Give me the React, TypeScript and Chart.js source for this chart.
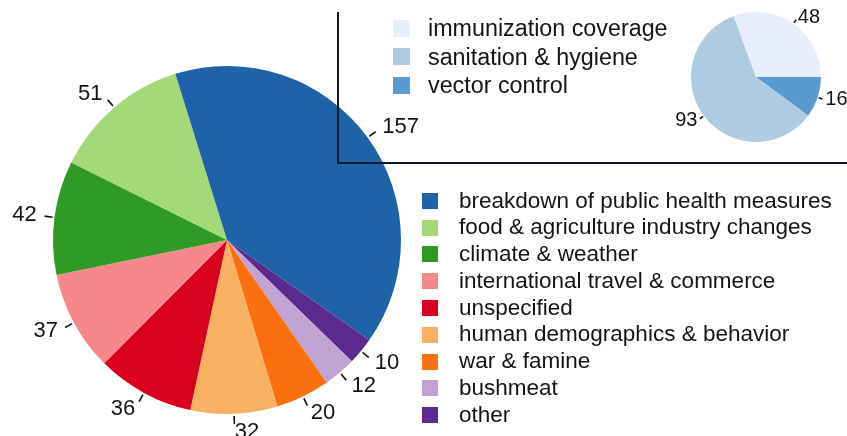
import React, { useEffect, useRef } from "react";
import { Chart, registerables } from "chart.js";
Chart.register(...registerables);

// ---- data (legend order) ----
const mainLabels = [
  "breakdown of public health measures",
  "food & agriculture industry changes",
  "climate & weather",
  "international travel & commerce",
  "unspecified",
  "human demographics & behavior",
  "war & famine",
  "bushmeat",
  "other",
];
const mainValues = [157, 51, 42, 37, 36, 32, 20, 12, 10];
const mainColors = [
  "#1f62a8",
  "#a4d97a",
  "#2f9a26",
  "#f6878b",
  "#d8001c",
  "#f8b163",
  "#fa7011",
  "#c1a4d4",
  "#5c2a8f",
];

const insetLabels = ["immunization coverage", "sanitation & hygiene", "vector control"];
const insetValues = [48, 93, 16];
const insetColors = ["#e8eefb", "#aecbe2", "#5a9bcf"];

const FONT = '"Liberation Sans", Arial, Helvetica, sans-serif';
const W = 847;
const H = 436;

function makeLabelPlugin(id: string, tickIn: number, tickOut: number, textOff: number, fontPx: number) {
  return {
    id,
    afterDatasetsDraw(chart: any) {
      const ctx = chart.ctx;
      const meta = chart.getDatasetMeta(0);
      const data = chart.data.datasets[0].data;
      ctx.save();
      ctx.strokeStyle = "#111";
      ctx.lineWidth = 1.6;
      ctx.fillStyle = "#141414";
      ctx.font = `${fontPx}px ${FONT}`;
      ctx.textBaseline = "middle";
      meta.data.forEach((arc: any, i: number) => {
        const p = arc.getProps(["x", "y", "startAngle", "endAngle", "outerRadius"], true);
        const a = (p.startAngle + p.endAngle) / 2;
        const c = Math.cos(a);
        const s = Math.sin(a);
        const r = p.outerRadius;
        ctx.beginPath();
        ctx.moveTo(p.x + c * (r + tickIn), p.y + s * (r + tickIn));
        ctx.lineTo(p.x + c * (r + tickOut), p.y + s * (r + tickOut));
        ctx.stroke();
        const tx = p.x + c * (r + textOff);
        const ty = p.y + s * (r + textOff);
        ctx.textAlign = c < -0.15 ? "right" : "left";
        ctx.fillText(String(data[i]), tx, ty);
      });
      ctx.restore();
    },
  };
}

const boxPlugin = {
  id: "boxLines",
  afterDraw(chart: any) {
    const ctx = chart.ctx;
    ctx.save();
    ctx.strokeStyle = "#111827";
    ctx.lineWidth = 2;
    ctx.beginPath();
    ctx.moveTo(338, 12);
    ctx.lineTo(338, 163);
    ctx.lineTo(W, 163);
    ctx.stroke();
    ctx.restore();
  },
};

function Legend(props: {
  labels: string[];
  colors: string[];
  left: number;
  top: number;
  rowH: number;
  box: number;
  gap: number;
  fontPx: number;
}) {
  const { labels, colors, left, top, rowH, box, gap, fontPx } = props;
  return (
    <div style={{ position: "absolute", left, top, fontFamily: FONT, fontSize: fontPx, color: "#141414" }}>
      {labels.map((l, i) => (
        <div
          key={l}
          style={{ height: rowH, lineHeight: rowH + "px", display: "flex", alignItems: "center", whiteSpace: "nowrap" }}
        >
          <span style={{ display: "inline-block", width: box, height: box, background: colors[i], marginRight: gap, flex: "none" }} />
          <span>{l}</span>
        </div>
      ))}
    </div>
  );
}

export default function App() {
  const mainRef = useRef<HTMLCanvasElement>(null);
  const insetRef = useRef<HTMLCanvasElement>(null);

  useEffect(() => {
    const rev = <T,>(arr: T[]) => arr.slice().reverse();
    const main = new Chart(mainRef.current as HTMLCanvasElement, {
      type: "pie",
      data: {
        labels: rev(mainLabels),
        datasets: [
          {
            data: rev(mainValues),
            backgroundColor: rev(mainColors),
            borderWidth: 0,
          },
        ],
      },
      options: {
        animation: false,
        responsive: false,
        rotation: 125.1,
        layout: { padding: { left: 53, top: 66, right: W - 401, bottom: H - 414 } },
        plugins: { legend: { display: false }, tooltip: { enabled: false } },
      },
      plugins: [makeLabelPlugin("mainLabels", 2, 10, 18, 22)],
    });

    const inset = new Chart(insetRef.current as HTMLCanvasElement, {
      type: "pie",
      data: {
        labels: rev(insetLabels),
        datasets: [
          {
            data: rev(insetValues),
            backgroundColor: rev(insetColors),
            borderWidth: 0,
          },
        ],
      },
      options: {
        animation: false,
        responsive: false,
        rotation: 90,
        layout: { padding: { left: 691, top: 12, right: W - 821, bottom: H - 142 } },
        plugins: { legend: { display: false }, tooltip: { enabled: false } },
      },
      plugins: [makeLabelPlugin("insetLabels", 1, 5, 8, 20), boxPlugin],
    });

    return () => {
      main.destroy();
      inset.destroy();
    };
  }, []);

  return (
    <div style={{ position: "fixed", left: 0, top: 0, width: W, height: H, background: "#fff", overflow: "hidden" }}>
      <canvas ref={mainRef} width={W} height={H} style={{ position: "absolute", left: 0, top: 0, width: W, height: H }} />
      <canvas ref={insetRef} width={W} height={H} style={{ position: "absolute", left: 0, top: 0, width: W, height: H }} />
      <Legend labels={insetLabels} colors={insetColors} left={393} top={14} rowH={28.5} box={17} gap={18} fontPx={23.3} />
      <Legend labels={mainLabels} colors={mainColors} left={422} top={187.5} rowH={26.8} box={16} gap={21} fontPx={22.5} />
    </div>
  );
}
